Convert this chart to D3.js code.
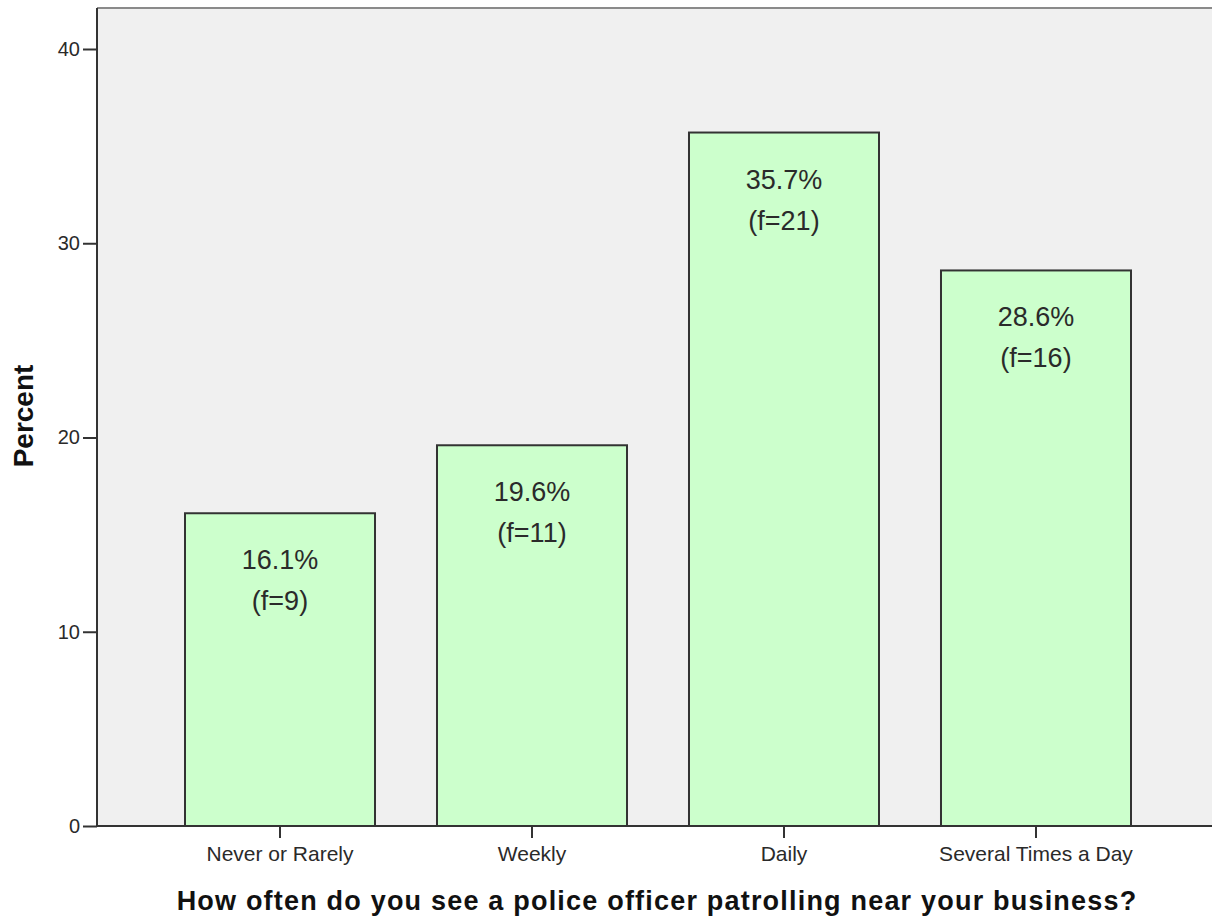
<!DOCTYPE html>
<html>
<head>
<meta charset="utf-8">
<script src="https://cdn.jsdelivr.net/npm/d3@7"></script>
<style>
  body { margin: 0; background: #fff; }
</style>
</head>
<body>
<div id="chart"></div>
<script>
// Data
const categories = ['Never or Rarely', 'Weekly', 'Daily', 'Several Times a Day'];
const percents = [16.1, 19.6, 35.7, 28.6];
const freqs = [9, 11, 21, 16];
const yTicks = [0, 10, 20, 30, 40];

const width = 1212, height = 920;
const plotLeft = 97, plotTop = 8, plotBottom = 826;
const font = 'Liberation Sans, Arial, sans-serif';

const svg = d3.select('#chart').append('svg')
    .attr('width', width)
    .attr('height', height)
    .attr('font-family', font);

const x = d3.scaleBand()
    .domain(categories)
    .range([185, 1131])
    .paddingInner(0.246)
    .paddingOuter(0);

const y = d3.scaleLinear()
    .domain([0, 40])
    .range([plotBottom, 49]);

// plot background
svg.append('rect')
    .attr('x', plotLeft)
    .attr('y', plotTop)
    .attr('width', width - plotLeft + 2)
    .attr('height', plotBottom - plotTop)
    .attr('fill', '#f0f0f0');

// top frame line
svg.append('line')
    .attr('x1', plotLeft).attr('x2', width)
    .attr('y1', plotTop).attr('y2', plotTop)
    .attr('stroke', '#8a8a8a')
    .attr('stroke-width', 2);

// bars
svg.append('g').selectAll('rect')
    .data(categories)
    .enter()
    .append('rect')
    .attr('x', d => x(d))
    .attr('y', (d, i) => y(percents[i]))
    .attr('width', x.bandwidth())
    .attr('height', (d, i) => y(0) - y(percents[i]))
    .attr('fill', '#ccffcc')
    .attr('stroke', '#333')
    .attr('stroke-width', 2);

// bar labels
const labels = svg.append('g')
    .attr('text-anchor', 'middle')
    .style('font-size', '27px')
    .style('fill', '#2a2a2a');

labels.selectAll('.pct')
    .data(categories)
    .enter()
    .append('text')
    .attr('class', 'pct')
    .attr('x', d => x(d) + x.bandwidth() / 2)
    .attr('y', (d, i) => y(percents[i]) + 56)
    .text((d, i) => percents[i].toFixed(1) + '%');

labels.selectAll('.freq')
    .data(categories)
    .enter()
    .append('text')
    .attr('class', 'freq')
    .attr('x', d => x(d) + x.bandwidth() / 2)
    .attr('y', (d, i) => y(percents[i]) + 97)
    .text((d, i) => '(f=' + freqs[i] + ')');

// y axis
const yAxis = svg.append('g')
    .attr('transform', `translate(${plotLeft},0)`)
    .call(d3.axisLeft(y).tickValues(yTicks).tickSize(14).tickSizeOuter(0).tickPadding(3));
yAxis.select('.domain').attr('stroke', '#333').attr('stroke-width', 2)
    .attr('d', `M0,${plotTop}V${plotBottom}`);
yAxis.selectAll('.tick line').attr('stroke', '#333').attr('stroke-width', 2);
yAxis.selectAll('.tick text')
    .style('font-size', '20px')
    .style('font-family', font)
    .attr('fill', '#2a2a2a');

// x axis
const xAxis = svg.append('g')
    .attr('transform', `translate(0,${plotBottom})`)
    .call(d3.axisBottom(x).tickSize(12).tickSizeOuter(0).tickPadding(8));
xAxis.select('.domain').attr('stroke', '#333').attr('stroke-width', 2)
    .attr('d', `M${plotLeft},0H${width}`);
xAxis.selectAll('.tick line').attr('stroke', '#333').attr('stroke-width', 2);
xAxis.selectAll('.tick text')
    .style('font-size', '21px')
    .style('font-family', font)
    .attr('fill', '#2a2a2a');

// axis titles
svg.append('text')
    .attr('x', 657)
    .attr('y', 910)
    .attr('text-anchor', 'middle')
    .style('font-size', '27px')
    .style('font-weight', 700)
    .style('letter-spacing', '1.2px')
    .style('fill', '#111')
    .text('How often do you see a police officer patrolling near your business?');

svg.append('text')
    .attr('transform', 'translate(33,416) rotate(-90)')
    .attr('text-anchor', 'middle')
    .style('font-size', '28px')
    .style('font-weight', 700)
    .style('fill', '#111')
    .text('Percent');
</script>
</body>
</html>
